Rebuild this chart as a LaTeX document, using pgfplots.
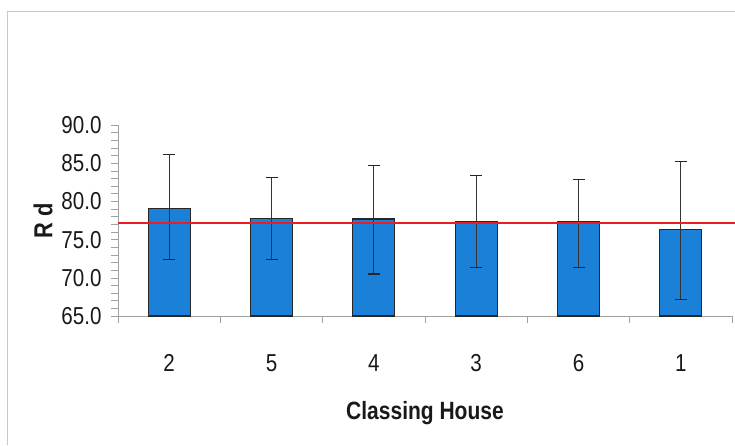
\documentclass[border=0pt]{standalone}
\usepackage{fontspec}
\setmainfont{Liberation Sans}[FakeStretch=0.84]
\usepackage{pgfplots}
\pgfplotsset{compat=1.18}
\definecolor{barblue}{RGB}{26,128,216}
\definecolor{linered}{RGB}{236,28,36}
\definecolor{axgray}{RGB}{160,160,160}
\begin{document}
\begin{tikzpicture}
\useasboundingbox (0pt,0pt) rectangle (735pt,445pt);
\draw[color={rgb,255:red,200;green,200;blue,200}, line width=1pt] (7pt,0pt) -- (7pt,433pt) -- (735pt,433pt);
\begin{axis}[
  at={(118pt,129pt)}, anchor=south west,
  scale only axis, width=614pt, height=191pt,
  xmin=-0.5, xmax=5.5, ymin=65, ymax=90,
  axis lines*=left,
  axis line style={axgray, line width=0.8pt},
  clip=false,
  xtick={0,1,2,3,4,5},
  xticklabels={2,5,4,3,6,1},
  major x tick style={draw=none},
  minor xtick={-0.5,0.5,1.5,2.5,3.5,4.5,5.5},
  minor x tick style={axgray, line width=0.6pt},
  ytick={65,70,75,80,85,90},
  minor y tick num=4,
  y tick style={axgray, line width=0.6pt},
  major tick length=7pt, minor tick length=7pt,
  tick align=outside,
  yticklabel style={/pgf/number format/.cd, fixed, fixed zerofill, precision=1, /tikz/.cd},
  /pgf/number format/assume math mode=true,
  tick label style={font=\fontsize{24.5}{28}\selectfont, text=black!90},
  xticklabel style={anchor=center, yshift=-40pt},
  yticklabel style={anchor=east, xshift=-6pt},
  ylabel={R d},
  xlabel={Classing House},
  every axis y label/.style={at={(axis description cs:-0.122,0.5)}, rotate=90, anchor=center, font=\bfseries\fontsize{26}{30}\selectfont, text=black!90},
  every axis x label/.style={at={(axis description cs:0.5,-0.508)}, anchor=center, font=\bfseries\fontsize{25}{30}\selectfont, text=black!90},
]
\addplot[ybar, bar width=0.41, fill=barblue, draw=black!85, line width=1.2pt,
  error bars/.cd, y dir=both, y explicit,
  error bar style={black!80, line width=1.1pt},
  error mark options={rotate=90, mark size=6pt, black!85, line width=1.2pt}]
coordinates {
  (0,79.1) += (0,7.0) -= (0,6.7)
  (1,77.8) += (0,5.3) -= (0,5.4)
  (2,77.7) += (0,7.0) -= (0,7.2)
  (3,77.3) += (0,6.1) -= (0,6.0)
  (4,77.3) += (0,5.6) -= (0,6.0)
  (5,76.3) += (0,8.9) -= (0,9.1)
};
\addplot[linered, line width=2.5pt] coordinates {(-0.5,77.2) (5.53,77.2)};
\end{axis}
\end{tikzpicture}
\end{document}
